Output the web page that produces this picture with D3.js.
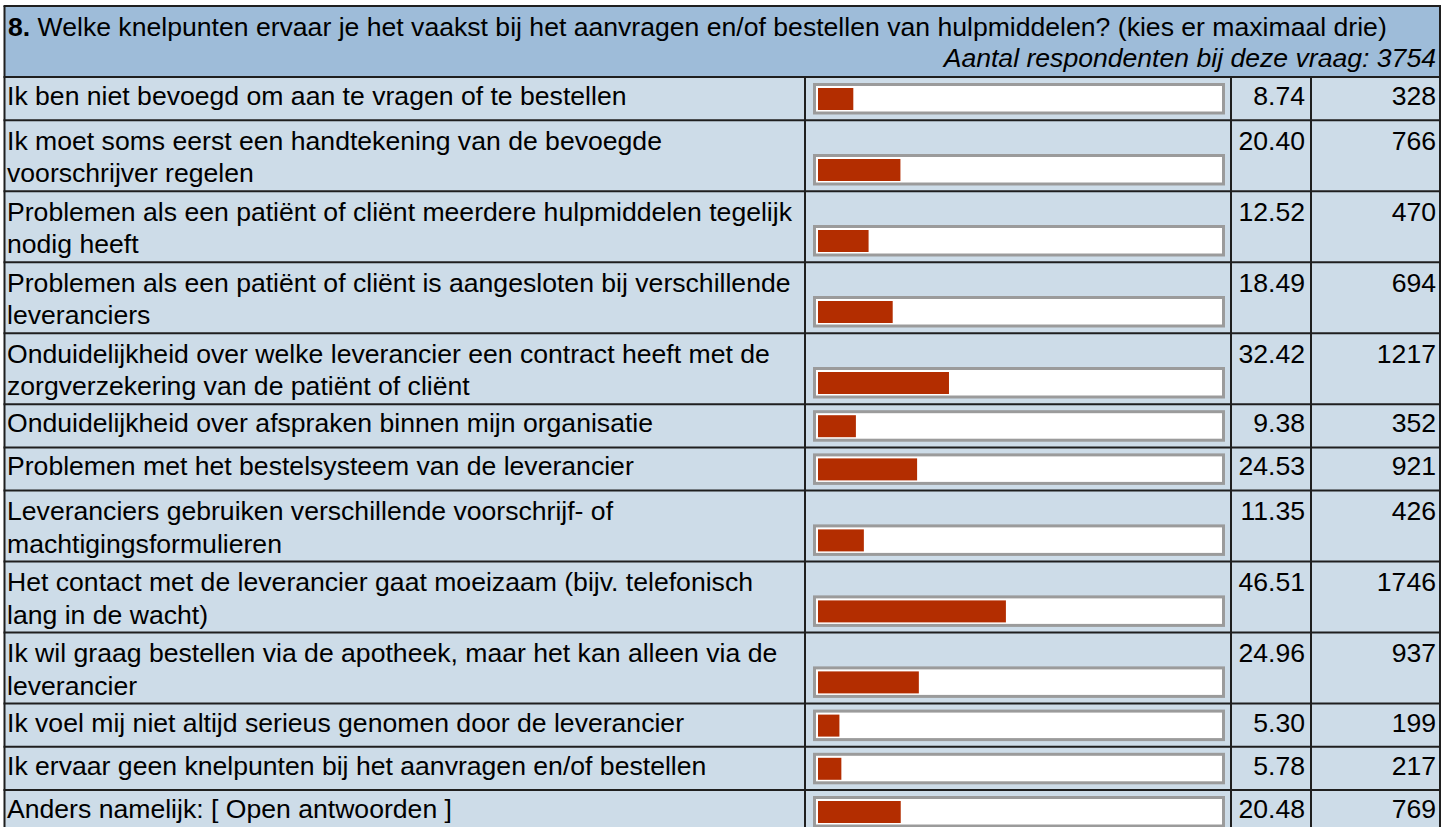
<!DOCTYPE html>
<html>
<head>
<meta charset="utf-8">
<script src="https://cdn.jsdelivr.net/npm/d3@7"></script>
<style>
  html, body { margin: 0; padding: 0; background: #fff; }
  svg { display: block; font-family: "Liberation Sans", Arial, Helvetica, sans-serif; }
</style>
</head>
<body>
<svg id="chart" width="1453" height="827"></svg>
<script>
// Survey question 8: answer options (wrapped lines), share of respondents and counts
const questionNumber = "8.";
const questionText = " Welke knelpunten ervaar je het vaakst bij het aanvragen en/of bestellen van hulpmiddelen? (kies er maximaal drie)";
const respondentsText = "Aantal respondenten bij deze vraag: 3754";

const answerLines = [
  ["Ik ben niet bevoegd om aan te vragen of te bestellen"],
  ["Ik moet soms eerst een handtekening van de bevoegde", "voorschrijver regelen"],
  ["Problemen als een patiënt of cliënt meerdere hulpmiddelen tegelijk", "nodig heeft"],
  ["Problemen als een patiënt of cliënt is aangesloten bij verschillende", "leveranciers"],
  ["Onduidelijkheid over welke leverancier een contract heeft met de", "zorgverzekering van de patiënt of cliënt"],
  ["Onduidelijkheid over afspraken binnen mijn organisatie"],
  ["Problemen met het bestelsysteem van de leverancier"],
  ["Leveranciers gebruiken verschillende voorschrijf- of", "machtigingsformulieren"],
  ["Het contact met de leverancier gaat moeizaam (bijv. telefonisch", "lang in de wacht)"],
  ["Ik wil graag bestellen via de apotheek, maar het kan alleen via de", "leverancier"],
  ["Ik voel mij niet altijd serieus genomen door de leverancier"],
  ["Ik ervaar geen knelpunten bij het aanvragen en/of bestellen"],
  ["Anders namelijk: [ Open antwoorden ]"]
];
const percentages = [8.74, 20.40, 12.52, 18.49, 32.42, 9.38, 24.53, 11.35, 46.51, 24.96, 5.30, 5.78, 20.48];
const counts = [328, 766, 470, 694, 1217, 352, 921, 426, 1746, 937, 199, 217, 769];

// Layout
const fontSize = 26.6;
const tableLeft = 4.5, tableRight = 1440, tableTop = 6, headerBottom = 77;
const colBar = 805, colPct = 1231, colCount = 1311;
const rowHeightOne = 43.2, rowHeightTwo = 71;
const lineGap = 32.5;

const colors = {
  header: "#9EBCD9",
  row: "#CDDCE8",
  grid: "#1f1f1f",
  boxBorder: "#9B9B9B",
  bar: "#B32D00"
};

const svg = d3.select("#chart");

// Row geometry derived from each answer's number of lines
const rows = [];
let yCursor = headerBottom;
answerLines.forEach((lines, i) => {
  const h = lines.length > 1 ? rowHeightTwo : rowHeightOne;
  rows.push({ lines, pct: percentages[i], count: counts[i], y0: yCursor, y1: yCursor + h });
  yCursor += h;
});

// Bar scale: 0–100 % across the inner width of the bar box
const boxX = 814.5, boxW = 409, boxBorder = 3;
const barX = 818;
const x = d3.scaleLinear().domain([0, 100]).range([0, 404]);

// Backgrounds
svg.append("rect")
  .attr("x", tableLeft).attr("y", tableTop)
  .attr("width", tableRight - tableLeft).attr("height", headerBottom - tableTop)
  .attr("fill", colors.header);

svg.append("g").selectAll("rect").data(rows).join("rect")
  .attr("x", tableLeft).attr("y", d => d.y0)
  .attr("width", tableRight - tableLeft).attr("height", d => d.y1 - d.y0)
  .attr("fill", colors.row);

// Header text
const head = svg.append("text")
  .attr("x", 8).attr("y", 36)
  .attr("font-size", fontSize).attr("fill", "#000");
head.append("tspan").attr("font-weight", "bold").text(questionNumber);
head.append("tspan").text(questionText);

svg.append("text")
  .attr("x", 1436).attr("y", 67)
  .attr("text-anchor", "end")
  .attr("font-size", fontSize).attr("font-style", "italic")
  .text(respondentsText);

// Bar boxes and bars
const barG = svg.append("g").selectAll("g").data(rows).join("g");
barG.append("rect")
  .attr("x", boxX)
  .attr("y", d => d.y1 - 37.2 + boxBorder / 2)
  .attr("width", boxW)
  .attr("height", 31.5 - boxBorder)
  .attr("fill", "#fff")
  .attr("stroke", colors.boxBorder)
  .attr("stroke-width", boxBorder);
barG.append("rect")
  .attr("x", barX)
  .attr("y", d => d.y1 - 37.2 + 5)
  .attr("width", d => x(d.pct))
  .attr("height", 22)
  .attr("fill", colors.bar);

// Labels and numbers
const textG = svg.append("g").attr("font-size", fontSize).attr("fill", "#000")
  .selectAll("g").data(rows).join("g");

const firstBaseline = d => d.lines.length > 1 ? d.y0 + 29.5 : d.y0 + 28;

textG.append("text")
  .attr("x", 7)
  .attr("y", firstBaseline)
  .selectAll("tspan").data(d => d.lines).join("tspan")
  .attr("x", 7)
  .attr("dy", (l, i) => i === 0 ? 0 : lineGap)
  .text(l => l);

const fmtPct = d3.format(".2f");
textG.append("text")
  .attr("x", 1305).attr("y", firstBaseline)
  .attr("text-anchor", "end")
  .text(d => fmtPct(d.pct));
textG.append("text")
  .attr("x", 1436).attr("y", firstBaseline)
  .attr("text-anchor", "end")
  .text(d => d.count);

// Grid lines
const grid = svg.append("g").attr("stroke", colors.grid).attr("stroke-width", 2);
const bottom = rows[rows.length - 1].y1;
grid.selectAll("line.h").data([tableTop, headerBottom, ...rows.map(r => r.y1)]).join("line")
  .attr("class", "h")
  .attr("x1", tableLeft - 1).attr("x2", tableRight + 1)
  .attr("y1", d => d).attr("y2", d => d);
grid.append("line").attr("x1", tableLeft).attr("x2", tableLeft).attr("y1", tableTop).attr("y2", bottom);
grid.append("line").attr("x1", tableRight).attr("x2", tableRight).attr("y1", tableTop).attr("y2", bottom);
grid.selectAll("line.v").data([colBar, colPct, colCount]).join("line")
  .attr("class", "v")
  .attr("x1", d => d).attr("x2", d => d)
  .attr("y1", headerBottom).attr("y2", bottom);
</script>
</body>
</html>
